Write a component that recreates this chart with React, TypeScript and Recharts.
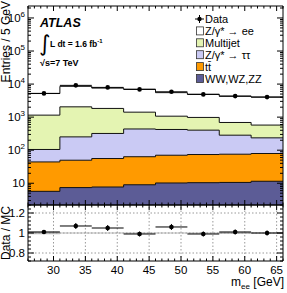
import React from 'react';
import { ComposedChart, Area, Scatter, ErrorBar, XAxis, YAxis, ReferenceLine } from 'recharts';

// m_ee histogram, 5 GeV bins
const binEdges = [26, 31, 36, 41, 46, 51, 56, 61, 66];
const binCenters = [28.5, 33.5, 38.5, 43.5, 48.5, 53.5, 58.5, 63.5];

// events per bin
const dataCounts = [5230, 9140, 7940, 6910, 5840, 4870, 4330, 4040];
const dibosonCounts = [5.7, 7.4, 7.7, 9.0, 10.2, 10.4, 10.6, 11.5];
const ttbarCounts = [38.5, 42.4, 48.3, 54.5, 60.3, 63.6, 65.1, 67.9];
const zttCounts = [61, 203, 265, 375, 353, 330, 209, 157];
const multijetCounts = [1045, 1797, 1514, 976, 646, 576, 405, 339];
const zeeCounts = [4028, 6492, 5727, 5565, 4439, 3939, 3597, 3465];

// uncertainties in the Data/MC panel
const ratioErr = [0.02, 0.03, 0.03, 0.025, 0.03, 0.025, 0.025, 0.025];
const mcBandErr = [0.012, 0.006, 0.006, 0.006, 0.006, 0.006, 0.01, 0.006];

// axis ticks
const xMajorTicks = [30, 35, 40, 45, 50, 55, 60, 65];
const logMajorTicks = [10, 100, 1000, 10000, 100000, 1000000];
const ratioMajorTicks = [0.8, 1, 1.2];
const ratioLabels = ['0.8', '1', '1.2'];

const COLORS = {
  zee: '#ffffff',
  multijet: '#e4f4b2',
  ztt: '#cacaf4',
  ttbar: '#ff9a00',
  diboson: '#5c5c96',
};

const FONT = "'Liberation Sans', Arial, Helvetica, sans-serif";
const Y_MIN = 2.2;
const Y_MAX = 2.3e6;
const R_MIN = 0.72;
const R_MAX = 1.28;

// stacked cumulative sums, bottom to top
const stackOrder = [dibosonCounts, ttbarCounts, zttCounts, multijetCounts, zeeCounts];
const cumulative: number[][] = [];
stackOrder.forEach((arr, s) => {
  cumulative.push(arr.map((v, i) => v + (s > 0 ? cumulative[s - 1][i] : 0)));
});
const totalMC = cumulative[cumulative.length - 1];

// step rows at bin edges (last edge repeats the last bin)
const stepRows = binEdges.map((edge, i) => {
  const k = Math.min(i, binCenters.length - 1);
  return {
    x: edge,
    diboson: cumulative[0][k],
    ttbar: cumulative[1][k],
    ztt: cumulative[2][k],
    multijet: cumulative[3][k],
    zee: cumulative[4][k],
    band: [1 - mcBandErr[k], 1 + mcBandErr[k]],
  };
});

const mainPoints = binCenters.map((c, i) => ({ x: c, y: dataCounts[i], ex: 2.5 }));
const ratioPoints = binCenters.map((c, i) => ({
  x: c,
  y: dataCounts[i] / totalMC[i],
  ex: 2.5,
  ey: ratioErr[i],
}));

// tick position lists (majors plus minors)
const xAllTicks: number[] = [];
for (let v = binEdges[0]; v <= binEdges[binEdges.length - 1]; v++) xAllTicks.push(v);
const logAllTicks: number[] = [];
for (let d = 1; d <= 1e6; d *= 10) {
  for (let m = 1; m <= 9; m++) {
    const v = d * m;
    if (v >= Y_MIN && v <= Y_MAX) logAllTicks.push(v);
  }
}
const ratioAllTicks: number[] = [];
for (let k = 0; k <= 14; k++) ratioAllTicks.push(Math.round((R_MIN + k * 0.04) * 100) / 100);

const isXMajor = (v: number) => xMajorTicks.includes(v);
const isLogMajor = (v: number) => logMajorTicks.some((t) => Math.abs(t - v) < 1e-6 * t);
const ratioMajorIndex = (v: number) => ratioMajorTicks.findIndex((t) => Math.abs(t - v) < 1e-6);

const makeXTick = (dir: 1 | -1, major: number, minor: number, withLabels: boolean) => (props: any) => {
  const { x, y, payload } = props;
  const mj = isXMajor(payload.value);
  return (
    <g>
      <line x1={x} y1={y} x2={x} y2={y + dir * (mj ? major : minor)} stroke="#000" strokeWidth={1} />
      {withLabels && mj && (
        <text x={x} y={y + 13} textAnchor="middle" fontSize={11.5} fontFamily={FONT} fill="#000">
          {payload.value}
        </text>
      )}
    </g>
  );
};

const makeLogTick = (dir: 1 | -1, withLabels: boolean) => (props: any) => {
  const { x, y, payload } = props;
  const v = payload.value;
  const mj = isLogMajor(v);
  const exp = Math.round(Math.log10(v));
  return (
    <g>
      <line x1={x} y1={y} x2={x + dir * (mj ? 6 : 3)} y2={y} stroke="#000" strokeWidth={1} />
      {withLabels && mj && (
        <text x={x - 3} y={y + 4} textAnchor="end" fontSize={11.5} fontFamily={FONT} fill="#000">
          10
          {exp > 1 && (
            <tspan dy={-5} fontSize={8}>
              {exp}
            </tspan>
          )}
        </text>
      )}
    </g>
  );
};

const makeRatioTick = (dir: 1 | -1, withLabels: boolean) => (props: any) => {
  const { x, y, payload } = props;
  const idx = ratioMajorIndex(payload.value);
  const mj = idx >= 0;
  return (
    <g>
      <line x1={x} y1={y} x2={x + dir * (mj ? 6 : 3)} y2={y} stroke="#000" strokeWidth={1} />
      {withLabels && mj && (
        <text x={x - 3} y={y + 4} textAnchor="end" fontSize={11.5} fontFamily={FONT} fill="#000">
          {ratioLabels[idx]}
        </text>
      )}
    </g>
  );
};

const DataDot = (props: any) => <circle cx={props.cx} cy={props.cy} r={2.3} fill="#000" />;

const legendItems = [
  { label: 'Data', fill: null },
  { label: 'Z/γ* → ee', fill: COLORS.zee },
  { label: 'Multijet', fill: COLORS.multijet },
  { label: 'Z/γ* → ττ', fill: COLORS.ztt },
  { label: 'tt\u0304', fill: COLORS.ttbar },
  { label: 'WW,WZ,ZZ', fill: COLORS.diboson },
];

const axisLine = { stroke: '#000', strokeWidth: 1 };

export default function App() {
  return (
    <div style={{ position: 'absolute', left: 0, top: 0, width: 287, height: 293, background: '#fff' }}>
      {/* upper panel: stacked backgrounds and data */}
      <div style={{ position: 'absolute', left: 0, top: 0 }}>
        <ComposedChart width={287} height={206} data={stepRows} margin={{ top: 5, right: 3, bottom: 0, left: 0 }}>
          <XAxis
            xAxisId="b"
            dataKey="x"
            type="number"
            domain={[26, 66]}
            allowDataOverflow
            ticks={xAllTicks}
            interval={0}
            tickSize={0}
            tickMargin={0}
            height={1}
            axisLine={axisLine}
            tickLine={false}
            tick={makeXTick(-1, 5, 2.5, false)}
          />
          <XAxis
            xAxisId="t"
            orientation="top"
            dataKey="x"
            type="number"
            domain={[26, 66]}
            allowDataOverflow
            ticks={xAllTicks}
            interval={0}
            tickSize={0}
            tickMargin={0}
            height={1}
            axisLine={axisLine}
            tickLine={false}
            tick={makeXTick(1, 5, 2.5, false)}
          />
          <YAxis
            yAxisId="l"
            scale="log"
            type="number"
            domain={[Y_MIN, Y_MAX]}
            allowDataOverflow
            ticks={logAllTicks}
            interval={0}
            tickSize={0}
            tickMargin={0}
            width={28}
            axisLine={axisLine}
            tickLine={false}
            tick={makeLogTick(1, true)}
          />
          <YAxis
            yAxisId="r"
            orientation="right"
            scale="log"
            type="number"
            domain={[Y_MIN, Y_MAX]}
            allowDataOverflow
            ticks={logAllTicks}
            interval={0}
            tickSize={0}
            tickMargin={0}
            width={1}
            axisLine={axisLine}
            tickLine={false}
            tick={makeLogTick(-1, false)}
          />
          <Area xAxisId="b" yAxisId="l" type="stepAfter" dataKey="zee" baseValue="dataMin" fill={COLORS.zee} fillOpacity={1} stroke="#111" strokeWidth={1} isAnimationActive={false} />
          <Area xAxisId="b" yAxisId="l" type="stepAfter" dataKey="multijet" baseValue="dataMin" fill={COLORS.multijet} fillOpacity={1} stroke="#111" strokeWidth={1} isAnimationActive={false} />
          <Area xAxisId="b" yAxisId="l" type="stepAfter" dataKey="ztt" baseValue="dataMin" fill={COLORS.ztt} fillOpacity={1} stroke="#111" strokeWidth={1} isAnimationActive={false} />
          <Area xAxisId="b" yAxisId="l" type="stepAfter" dataKey="ttbar" baseValue="dataMin" fill={COLORS.ttbar} fillOpacity={1} stroke="#111" strokeWidth={1} isAnimationActive={false} />
          <Area xAxisId="b" yAxisId="l" type="stepAfter" dataKey="diboson" baseValue="dataMin" fill={COLORS.diboson} fillOpacity={1} stroke="#111" strokeWidth={1} isAnimationActive={false} />
          <Scatter xAxisId="b" yAxisId="l" data={mainPoints} dataKey="y" shape={DataDot} isAnimationActive={false}>
            <ErrorBar dataKey="ex" direction="x" width={0} stroke="#000" strokeWidth={1} />
          </Scatter>
        </ComposedChart>
      </div>

      {/* lower panel: Data / MC */}
      <div style={{ position: 'absolute', left: 0, top: 204 }}>
        <ComposedChart width={287} height={89} data={stepRows} margin={{ top: 0, right: 3, bottom: 0, left: 0 }}>
          <XAxis
            xAxisId="b"
            dataKey="x"
            type="number"
            domain={[26, 66]}
            allowDataOverflow
            ticks={xAllTicks}
            interval={0}
            tickSize={0}
            tickMargin={0}
            height={32}
            axisLine={axisLine}
            tickLine={false}
            tick={makeXTick(-1, 5, 2.5, true)}
          />
          <XAxis
            xAxisId="t"
            orientation="top"
            dataKey="x"
            type="number"
            domain={[26, 66]}
            allowDataOverflow
            ticks={xAllTicks}
            interval={0}
            tickSize={0}
            tickMargin={0}
            height={1}
            axisLine={axisLine}
            tickLine={false}
            tick={makeXTick(1, 5, 2.5, false)}
          />
          <YAxis
            yAxisId="l"
            type="number"
            domain={[R_MIN, R_MAX]}
            allowDataOverflow
            ticks={ratioAllTicks}
            interval={0}
            tickSize={0}
            tickMargin={0}
            width={28}
            axisLine={axisLine}
            tickLine={false}
            tick={makeRatioTick(1, true)}
          />
          <YAxis
            yAxisId="r"
            orientation="right"
            type="number"
            domain={[R_MIN, R_MAX]}
            allowDataOverflow
            ticks={ratioAllTicks}
            interval={0}
            tickSize={0}
            tickMargin={0}
            width={1}
            axisLine={axisLine}
            tickLine={false}
            tick={makeRatioTick(-1, false)}
          />
          {xMajorTicks.map((t) => (
            <ReferenceLine key={'gx' + t} xAxisId="b" yAxisId="l" x={t} stroke="#999" strokeDasharray="1.5 2" />
          ))}
          {ratioMajorTicks.map((t) => (
            <ReferenceLine key={'gy' + t} xAxisId="b" yAxisId="l" y={t} stroke="#999" strokeDasharray="1.5 2" />
          ))}
          <Area xAxisId="b" yAxisId="l" type="stepAfter" dataKey="band" fill="#b4b4b4" fillOpacity={0.9} stroke="none" isAnimationActive={false} />
          <Scatter xAxisId="b" yAxisId="l" data={ratioPoints} dataKey="y" shape={DataDot} isAnimationActive={false}>
            <ErrorBar dataKey="ex" direction="x" width={0} stroke="#000" strokeWidth={1} />
            <ErrorBar dataKey="ey" direction="y" width={0} stroke="#000" strokeWidth={1} />
          </Scatter>
        </ComposedChart>
      </div>

      {/* titles, labels and legend */}
      <svg width={287} height={293} style={{ position: 'absolute', left: 0, top: 0, pointerEvents: 'none' }}>
        <text transform="translate(10,1) rotate(-90)" textAnchor="end" fontSize={12} fontFamily={FONT} fill="#000">
          Entries / 5 GeV
        </text>
        <text transform="translate(10,206) rotate(-90)" textAnchor="end" fontSize={12} fontFamily={FONT} fill="#000">
          Data / MC
        </text>
        <text x={284} y={286} textAnchor="end" fontSize={12} fontFamily={FONT} fill="#000">
          m
          <tspan dy={3} fontSize={8}>
            ee
          </tspan>
          <tspan dy={-3}> [GeV]</tspan>
        </text>

        <text x={40} y={27} fontSize={12.5} fontWeight="bold" fontStyle="italic" fontFamily={FONT} fill="#000">
          ATLAS
        </text>
        <text x={39} y={51} fontSize={22} fontFamily="'DejaVu Sans', sans-serif" fill="#000">
          ∫
        </text>
        <text x={50} y={47} fontSize={8.5} fontWeight="bold" fontFamily={FONT} fill="#000">
          L dt = 1.6 fb
          <tspan dy={-4} fontSize={6}>
            -1
          </tspan>
        </text>
        <text x={40} y={66} fontSize={9} fontWeight="bold" fontFamily={FONT} fill="#000">
          √s=7 TeV
        </text>

        {legendItems.map((item, i) => {
          const cy = 19 + i * 11.9;
          return (
            <g key={item.label}>
              {item.fill === null ? (
                <g>
                  <line x1={195} y1={cy} x2={204} y2={cy} stroke="#000" strokeWidth={1} />
                  <line x1={199.5} y1={cy - 4} x2={199.5} y2={cy + 4} stroke="#000" strokeWidth={1} />
                  <circle cx={199.5} cy={cy} r={2.2} fill="#000" />
                </g>
              ) : (
                <rect x={196.5} y={cy - 4} width={7} height={8} fill={item.fill} stroke="#333" strokeWidth={0.8} />
              )}
              <text x={205} y={cy + 4} fontSize={11} fontFamily={FONT} fill="#000">
                {item.label}
              </text>
            </g>
          );
        })}
      </svg>
    </div>
  );
}
